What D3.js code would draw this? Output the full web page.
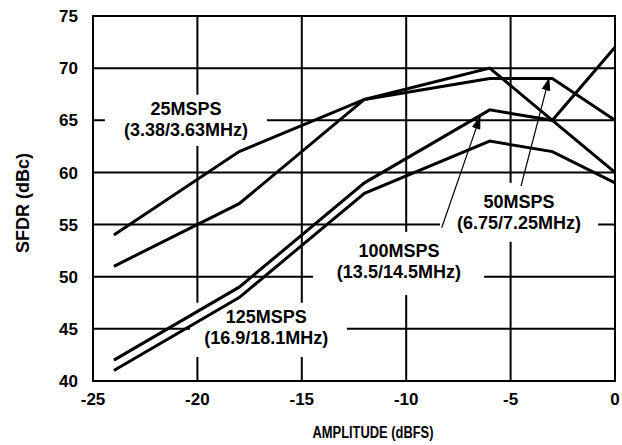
<!DOCTYPE html>
<html>
<head>
<meta charset="utf-8">
<script src="https://cdn.jsdelivr.net/npm/d3@7"></script>
<style>
  body { margin: 0; background: #fff; }
  text { font-family: "Liberation Sans", Arial, sans-serif; font-weight: bold; fill: #000; }
</style>
</head>
<body>
<div id="chart"></div>
<script>
// amplitude points (dBFS)
const amplitude = [-24, -18, -12, -6, -3, 0];

// SFDR (dBc) per sample rate
const sfdr25 = [54, 62, 67, 70, 65, 60];
const sfdr50 = [51, 57, 67, 69, 69, 65];
const sfdr100 = [42, 49, 59, 66, 65, 72];
const sfdr125 = [41, 48, 58, 63, 62, 59];

const xTicks = [-25, -20, -15, -10, -5, 0];
const yTicks = [40, 45, 50, 55, 60, 65, 70, 75];

// labels: [line1, line2, centre x, centre y] in data units
const labels = [
  ["25MSPS", "(3.38/3.63MHz)", -20.55, 65.1],
  ["50MSPS", "(6.75/7.25MHz)", -4.6, 56.2],
  ["100MSPS", "(13.5/14.5MHz)", -10.35, 51.5],
  ["125MSPS", "(16.9/18.1MHz)", -16.7, 45.15]
];
// white knock-out boxes behind the labels: [x0, x1, y0, y1] data units
const boxes = [
  [-24.43, -16.67, 67.45, 62.55],
  [-8.38, -0.81, 59.0, 53.35],
  [-14.46, -6.27, 54.3, 48.25],
  [-20.35, -12.84, 47.5, 42.3]
];
// arrows: [from x, from y, to x, to y]
const arrows = [
  [-8.3, 54.7, -6.45, 65.4],
  [-4.5, 58.7, -3.15, 69.1]
];

const width = 622, height = 445;
const margin = { top: 16, right: 7, bottom: 64, left: 93 };
const w = width - margin.left - margin.right;
const h = height - margin.top - margin.bottom;

const svg = d3.select("#chart").append("svg")
  .attr("width", width)
  .attr("height", height);

const chart = svg.append("g")
  .attr("transform", `translate(${margin.left},${margin.top})`);

const x = d3.scaleLinear().domain([-25, 0]).range([0, w]);
const y = d3.scaleLinear().domain([40, 75]).range([h, 0]);

// grid
chart.append("g").selectAll("line")
  .data(xTicks)
  .join("line")
  .attr("x1", d => x(d)).attr("x2", d => x(d))
  .attr("y1", 0).attr("y2", h)
  .attr("stroke", "#000").attr("stroke-width", 2);

chart.append("g").selectAll("line")
  .data(yTicks)
  .join("line")
  .attr("x1", 0).attr("x2", w)
  .attr("y1", d => y(d)).attr("y2", d => y(d))
  .attr("stroke", "#000").attr("stroke-width", 2);

// label boxes cut the grid
chart.append("g").selectAll("rect")
  .data(boxes)
  .join("rect")
  .attr("x", d => x(d[0]))
  .attr("width", d => x(d[1]) - x(d[0]))
  .attr("y", d => y(d[2]))
  .attr("height", d => y(d[3]) - y(d[2]))
  .attr("fill", "#fff");

// frame
chart.append("rect")
  .attr("width", w).attr("height", h)
  .attr("fill", "none").attr("stroke", "#000").attr("stroke-width", 2);

// data lines
const line = d3.line()
  .x((d, i) => x(amplitude[i]))
  .y(d => y(d));

chart.append("g").selectAll("path")
  .data([sfdr25, sfdr50, sfdr100, sfdr125])
  .join("path")
  .attr("d", line)
  .attr("fill", "none")
  .attr("stroke", "#000")
  .attr("stroke-width", 3)
  .attr("stroke-linejoin", "miter");

// arrows
svg.append("defs").append("marker")
  .attr("id", "head")
  .attr("viewBox", "0 0 13 9")
  .attr("refX", 13).attr("refY", 4.5)
  .attr("markerWidth", 13).attr("markerHeight", 9)
  .attr("markerUnits", "userSpaceOnUse")
  .attr("orient", "auto")
  .append("path")
  .attr("d", "M0,0L13,4.5L0,9Z")
  .attr("fill", "#000");

chart.append("g").selectAll("line")
  .data(arrows)
  .join("line")
  .attr("x1", d => x(d[0])).attr("y1", d => y(d[1]))
  .attr("x2", d => x(d[2])).attr("y2", d => y(d[3]))
  .attr("stroke", "#000").attr("stroke-width", 1.2)
  .attr("marker-end", "url(#head)");

// labels
const lab = chart.append("g").selectAll("text")
  .data(labels)
  .join("text")
  .attr("text-anchor", "middle")
  .attr("font-size", 18)
  .attr("transform", d => `translate(${x(d[2])},${y(d[3])})`);
lab.append("tspan").attr("x", 0).attr("y", -4).text(d => d[0]);
lab.append("tspan").attr("x", 0).attr("y", 17).text(d => d[1]);

// tick labels
chart.append("g").selectAll("text")
  .data(yTicks)
  .join("text")
  .attr("x", -15)
  .attr("y", d => y(d))
  .attr("dy", "0.36em")
  .attr("text-anchor", "end")
  .attr("font-size", 17)
  .text(d => d);

chart.append("g").selectAll("text")
  .data(xTicks)
  .join("text")
  .attr("x", d => x(d))
  .attr("y", h + 24)
  .attr("text-anchor", "middle")
  .attr("font-size", 17)
  .text(d => d);

// axis titles
svg.append("text")
  .attr("x", 373)
  .attr("y", 438)
  .attr("text-anchor", "middle")
  .attr("font-size", 16)
  .attr("textLength", 121)
  .attr("lengthAdjust", "spacingAndGlyphs")
  .text("AMPLITUDE (dBFS)");

svg.append("text")
  .attr("transform", "translate(29,203) rotate(-90)")
  .attr("text-anchor", "middle")
  .attr("font-size", 18)
  .text("SFDR (dBc)");
</script>
</body>
</html>
